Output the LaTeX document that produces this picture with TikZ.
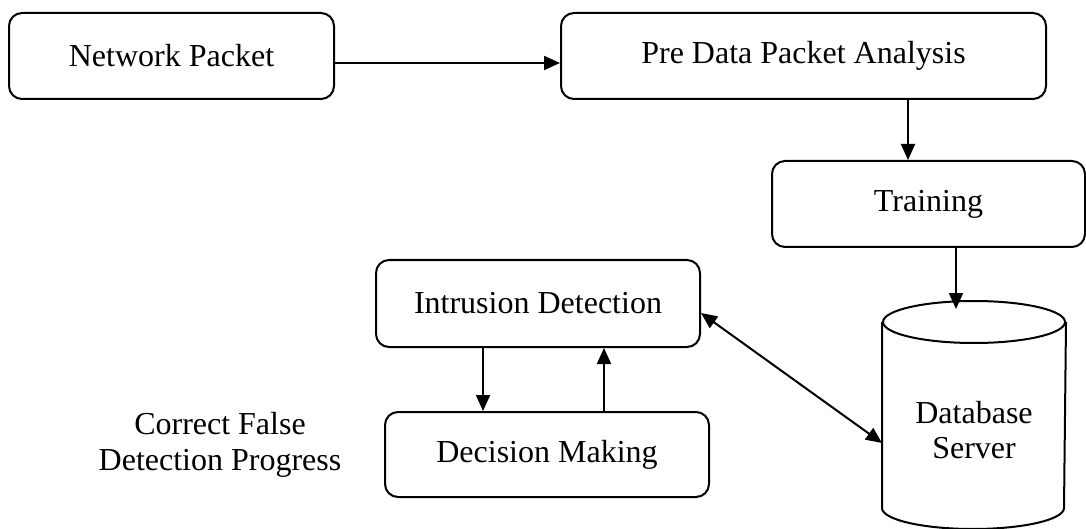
\documentclass[tikz,border=0pt]{standalone}
\usepackage{fontspec}
\setmainfont{Liberation Serif}
\usetikzlibrary{arrows.meta, calc}

\begin{document}
\begin{tikzpicture}[x=0.5pt, y=-0.5pt, line width=1pt,
            box/.style={draw, rounded corners=6.5pt, inner sep=0pt, font=\fontsize{16}{19}\selectfont},
            >={Triangle[length=8pt, width=7pt]}]
            \useasboundingbox (0,0) rectangle (1086,529);
            \node[box, minimum width=162.5pt, minimum height=43pt] (np) at (171.5,56) {Network Packet};
            \node[box, minimum width=242.5pt, minimum height=43pt] (pd) at (803.5,56) {Pre Data Packet Analysis};
            \node[box, minimum width=156.5pt, minimum height=43pt] (tr) at (928.5,204) {Training};
            \node[box, minimum width=162pt, minimum height=43.5pt] (id) at (538,303.5) {Intrusion Detection};
            \node[box, minimum width=162pt, minimum height=42.5pt] (dm) at (547,454.5) {Decision Making};
            % database drum
            \node[inner sep=0pt, minimum width=91pt, minimum height=113pt] (db) at (974,415) {};
            \draw ([yshift=-10.5pt]db.north) ellipse [x radius=45.5pt, y radius=10.5pt];
            \draw ([yshift=-10.5pt]db.north west) -- ([yshift=10.5pt]db.south west)
                arc [start angle=180, end angle=360, x radius=45.5pt, y radius=10.5pt]
                -- ([yshift=-10.5pt]db.north east);
            \node[align=center, font=\fontsize{16}{17.5}\selectfont] (dbtext) at ([yshift=-7.5pt]db.center) {Database\\Server};
            \node[align=center, font=\fontsize{16}{18}\selectfont] (cf) at (220,445) {Correct False\\Detection Progress};
            \draw[->] ([yshift=-3.5pt]np.east) -- ([yshift=-3.5pt]pd.west);
            \draw[->] ([xshift=52.25pt]pd.south) -- ([xshift=52.25pt]pd.south |- tr.north);
            \draw[->] ([xshift=13.75pt]tr.south) -- ([xshift=13.75pt,yshift=-4pt]tr.south |- db.north);
            \draw[->] ([xshift=-27.5pt]id.south) -- ([xshift=-27.5pt]id.south |- dm.north);
            \draw[->] ([xshift=28.5pt]dm.north) -- ([xshift=28.5pt]dm.north |- id.south);
            \draw[<->] ([yshift=-4.75pt]id.east) -- ([yshift=-14pt]db.west);
        \end{tikzpicture}
\end{document}
